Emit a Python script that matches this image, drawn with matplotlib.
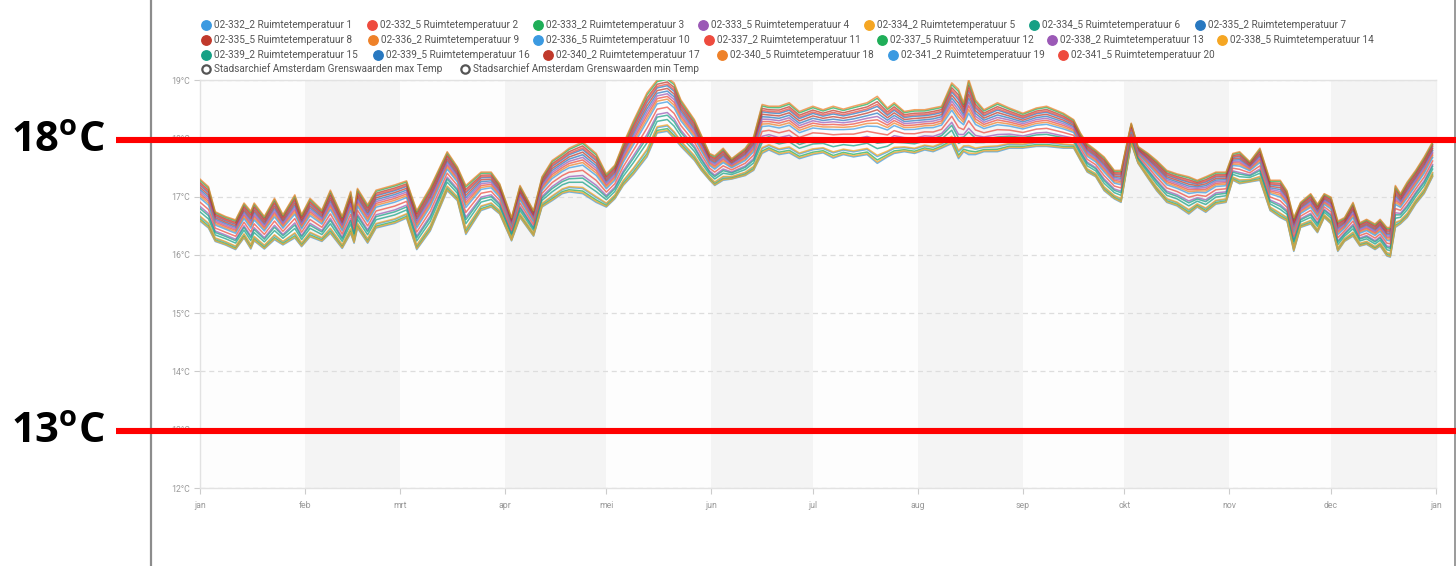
import matplotlib
matplotlib.use("Agg")
import matplotlib.pyplot as plt
import numpy as np
from matplotlib.lines import Line2D
from matplotlib import transforms

# ---------------- data ----------------
month_days = [0, 31, 59, 90, 120, 151, 181, 212, 243, 273, 304, 334, 365]
month_labels = ['jan', 'feb', 'mrt', 'apr', 'mei', 'jun', 'jul', 'aug', 'sep', 'okt', 'nov', 'dec', 'jan']
y_ticks = [12, 13, 14, 15, 16, 17, 18, 19]

# day of year of each reading
days = [0, 2.5, 4.5, 7.5, 10.5, 13, 15, 16, 19, 22, 24.5, 28, 30, 32.5, 36, 38.5, 42, 44.5, 45.5, 46.5,
        49.5, 52, 57.5, 61, 64, 68, 73, 76, 78.5, 83, 86, 88.5, 92, 94.5, 98.5, 101, 104, 107, 109, 113,
        117, 120, 122.5, 125, 128, 132, 135, 138, 140, 142, 146, 148, 150.5, 152, 154.5, 157, 161, 163.5, 166, 168,
        171, 174, 177, 181, 184, 187, 190, 193, 197, 200, 203, 205, 208, 211, 214, 216.5, 219, 222, 224, 225.5,
        227, 229, 231.5, 235.5, 239, 243, 247, 250, 255, 258, 260, 262, 264.5, 267, 270, 272, 275, 277, 280, 282.5,
        285.5, 288.5, 292, 294.5, 297, 300, 303, 305, 307, 310, 313, 316, 319, 321, 323, 325, 328, 330, 332, 334,
        336, 338, 340.5, 342.5, 344.5, 347, 348.5, 350.5, 351.5, 353, 354.5, 356.5, 359, 361.5, 364]

# warmest room temperature of the 20 rooms (upper edge of the band)
upper_temp = [17.30, 17.17, 16.74, 16.66, 16.60, 16.89, 16.75, 16.89, 16.66, 16.97, 16.69, 17.03, 16.69, 16.97, 16.77, 17.11, 16.66, 17.09, 16.75, 17.14,
              16.86, 17.11, 17.20, 17.27, 16.76, 17.16, 17.77, 17.51, 17.19, 17.42, 17.42, 17.22, 16.64, 17.19, 16.76, 17.34, 17.62, 17.74, 17.83, 17.94,
              17.74, 17.39, 17.54, 17.91, 18.30, 18.78, 19.00, 19.04, 18.95, 18.66, 18.32, 18.06, 17.74, 17.70, 17.83, 17.65, 17.83, 18.03, 18.58, 18.55,
              18.55, 18.61, 18.46, 18.55, 18.49, 18.55, 18.50, 18.55, 18.61, 18.72, 18.52, 18.61, 18.46, 18.49, 18.49, 18.52, 18.55, 18.95, 18.84, 18.61,
              19.01, 18.66, 18.49, 18.61, 18.52, 18.43, 18.52, 18.55, 18.43, 18.32, 18.09, 17.91, 17.80, 17.68, 17.45, 17.45, 18.26, 17.86, 17.74, 17.62,
              17.45, 17.39, 17.34, 17.28, 17.34, 17.42, 17.42, 17.74, 17.77, 17.60, 17.83, 17.28, 17.28, 17.10, 16.64, 16.90, 17.05, 16.87, 17.05, 16.99,
              16.58, 16.64, 16.90, 16.55, 16.61, 16.53, 16.61, 16.47, 16.47, 17.19, 17.05, 17.25, 17.45, 17.68, 17.94]

# coolest room temperature of the 20 rooms (lower edge of the band)
lower_temp = [16.58, 16.46, 16.23, 16.17, 16.09, 16.29, 16.10, 16.24, 16.10, 16.26, 16.17, 16.29, 16.14, 16.31, 16.23, 16.37, 16.11, 16.37, 16.20, 16.46,
              16.20, 16.46, 16.54, 16.63, 16.09, 16.41, 17.10, 16.93, 16.35, 16.76, 16.82, 16.70, 16.24, 16.64, 16.32, 16.82, 16.93, 17.05, 17.08, 17.05,
              16.90, 16.82, 16.96, 17.19, 17.38, 17.68, 18.09, 18.12, 18.00, 17.86, 17.62, 17.45, 17.28, 17.19, 17.28, 17.30, 17.36, 17.45, 17.74, 17.80,
              17.72, 17.75, 17.65, 17.72, 17.75, 17.66, 17.72, 17.68, 17.72, 17.57, 17.68, 17.74, 17.77, 17.74, 17.80, 17.77, 17.83, 17.91, 17.65, 17.77,
              17.72, 17.72, 17.77, 17.77, 17.83, 17.83, 17.86, 17.86, 17.83, 17.83, 17.62, 17.42, 17.34, 17.10, 16.96, 16.90, 17.91, 17.57, 17.31, 17.10,
              16.90, 16.84, 16.70, 16.82, 16.73, 16.87, 16.90, 17.28, 17.22, 17.25, 17.28, 16.76, 16.64, 16.58, 16.06, 16.47, 16.53, 16.38, 16.64, 16.53,
              16.06, 16.23, 16.32, 16.15, 16.18, 16.09, 16.15, 15.98, 15.96, 16.47, 16.53, 16.64, 16.87, 17.05, 17.34]

series_names = ['02-332_2 Ruimtetemperatuur 1', '02-332_5 Ruimtetemperatuur 2', '02-333_2 Ruimtetemperatuur 3',
                '02-333_5 Ruimtetemperatuur 4', '02-334_2 Ruimtetemperatuur 5', '02-334_5 Ruimtetemperatuur 6',
                '02-335_2 Ruimtetemperatuur 7', '02-335_5 Ruimtetemperatuur 8', '02-336_2 Ruimtetemperatuur 9',
                '02-336_5 Ruimtetemperatuur 10', '02-337_2 Ruimtetemperatuur 11', '02-337_5 Ruimtetemperatuur 12',
                '02-338_2 Ruimtetemperatuur 13', '02-338_5 Ruimtetemperatuur 14', '02-339_2 Ruimtetemperatuur 15',
                '02-339_5 Ruimtetemperatuur 16', '02-340_2 Ruimtetemperatuur 17', '02-340_5 Ruimtetemperatuur 18',
                '02-341_2 Ruimtetemperatuur 19', '02-341_5 Ruimtetemperatuur 20']
# relative position of each room within the band (0 = coolest, 1 = warmest)
series_position = [0.10, 0.88, 0.97, 0.35, 0.02, 0.22, 0.75, 0.80, 1.00, 0.55,
                   0.65, 0.05, 0.70, 0.12, 0.30, 0.85, 0.92, 0.60, 0.00, 0.45]

limit_names = ['Stadsarchief Amsterdam Grenswaarden max Temp', 'Stadsarchief Amsterdam Grenswaarden min Temp']
limit_max = [18, 18]
limit_min = [13, 13]
limit_days = [0, 365]
marked_levels = [18, 13]
marked_labels = ['18', '13']

# ---------------- style ----------------
palette = ['#3B9AE1', '#EE4B3E', '#1FAE58', '#9B59B6', '#F5A623', '#16A085', '#2878C0',
           '#C0392B', '#EE8129']
colors = [palette[i % 9] for i in range(20)]

W, H = 1456, 566
fig = plt.figure(figsize=(W / 100, H / 100), dpi=100)
fig.patch.set_facecolor('white')
ax = fig.add_axes([200 / W, 1 - 488 / H, 1236 / W, 408 / H])
ax.set_facecolor('#fdfdfd')

# alternating month bands
for i in range(1, 12, 2):
    ax.axvspan(month_days[i], month_days[i + 1], color='#f4f4f4', lw=0, zorder=0)

d = np.array(days)
up = np.array(upper_temp)
lo = np.array(lower_temp)
for i in range(20):
    vals = lo + series_position[i] * (up - lo)
    ax.plot(d, vals, color=colors[i], lw=1.1, alpha=0.72, zorder=3 + (i % 5) * 0.01)

ax.plot(limit_days, limit_max, color='#666666', lw=1.2, ls=(0, (1.5, 1.5)), zorder=2)
ax.plot(limit_days, limit_min, color='#666666', lw=1.2, ls=(0, (1.5, 1.5)), zorder=2)

ax.set_xlim(0, 365)
ax.set_ylim(12, 19)
ax.set_xticks(month_days)
ax.set_xticklabels(month_labels)
ax.set_yticks(y_ticks)
ax.set_yticklabels([f'{t}°C' for t in y_ticks])
ax.tick_params(axis='both', colors='#cccccc', labelcolor='#999999', labelsize=6.3, length=4, width=0.8)
ax.tick_params(axis='x', pad=5)
ax.tick_params(axis='y', pad=3)
for lab in ax.get_xticklabels() + ax.get_yticklabels():
    lab.set_family('Roboto')
ax.grid(axis='y', color='#dddddd', ls=(0, (4, 3)), lw=0.9)
ax.grid(axis='x', visible=False)
for s in ['left', 'bottom', 'top', 'right']:
    ax.spines[s].set_color('#e2e2e2')
    ax.spines[s].set_linewidth(1.0)
ax.spines['right'].set_color('#f0f0f0')

# frame lines of the screenshot
fig.add_artist(Line2D([151 / W, 151 / W], [0, 1], transform=fig.transFigure, color='#8c8c8c', lw=1.6))
fig.add_artist(Line2D([1455 / W, 1455 / W], [0, 1], transform=fig.transFigure, color='#9a9a9a', lw=1.4))

# legend
rows_y = [25, 40, 55, 69]
legend_x = [[206, 372, 538, 703, 869, 1034, 1200],
            [206, 373, 538, 709, 882, 1052, 1222],
            [206, 378, 548, 722, 893, 1063]]
k = 0
for r, xs in enumerate(legend_x):
    for x in xs:
        y = rows_y[r]
        fig.add_artist(Line2D([x / W], [1 - y / H], transform=fig.transFigure, marker='o', ms=6.8,
                              mfc=colors[k], mec=colors[k], ls='none'))
        fig.text((x + 8) / W, 1 - y / H, series_names[k], fontsize=7.2, color='#555555',
                 va='center', ha='left', family='Roboto')
        k += 1
for j, x in enumerate([206, 465]):
    y = rows_y[3]
    fig.add_artist(Line2D([x / W], [1 - y / H], transform=fig.transFigure, marker='o', ms=6.0,
                          mfc='white', mec='#555555', mew=1.6, ls='none'))
    fig.text((x + 8) / W, 1 - y / H, limit_names[j], fontsize=7.2, color='#555555',
             va='center', ha='left', family='Roboto')

# red marker lines with labels
plt.rcParams['mathtext.fontset'] = 'custom'
plt.rcParams['mathtext.bf'] = 'Open Sans:bold'
plt.rcParams['mathtext.rm'] = 'Open Sans:bold'
blend = transforms.blended_transform_factory(fig.transFigure, ax.transData)
shift = transforms.ScaledTranslation(0, -1.6 / 100, fig.dpi_scale_trans)
for lvl, lab in zip(marked_levels, marked_labels):
    fig.add_artist(Line2D([116 / W, 1.0], [lvl, lvl], transform=blend + shift, color='#ff0000',
                          lw=4.4, solid_capstyle='butt', zorder=10))
    fig.text(11 / W, lvl, r'$\mathbf{' + lab + r'^{o}C}$', transform=blend + shift, fontsize=30,
             color='black', va='center', ha='left')

fig.savefig('out.png', dpi=100, facecolor='white')
